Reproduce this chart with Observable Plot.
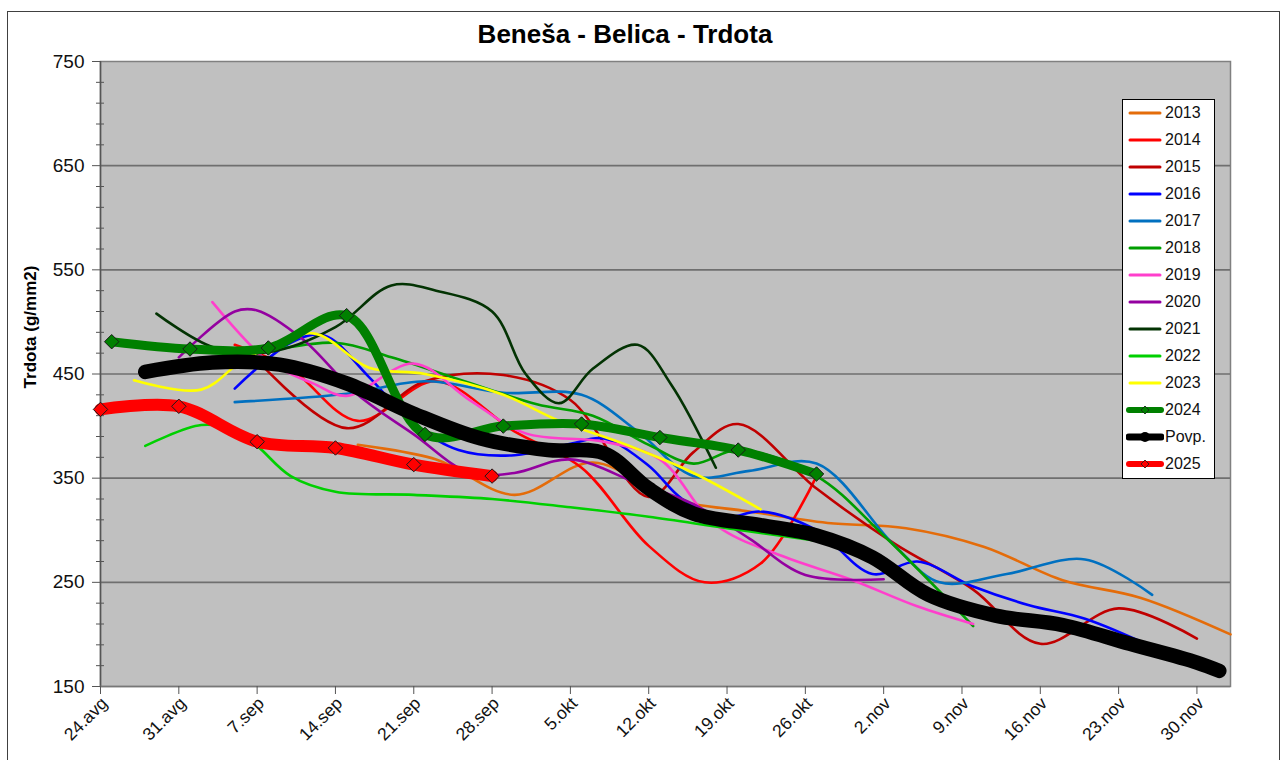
<!DOCTYPE html>
<html>
<head>
<meta charset="utf-8">
<script src="https://cdn.jsdelivr.net/npm/d3@7"></script>
<script src="https://cdn.jsdelivr.net/npm/@observablehq/plot@0.6"></script>
<style>
  body { margin: 0; background: #fff; font-family: "Liberation Sans", Arial, sans-serif; }
  #wrap { position: relative; width: 1284px; height: 760px; overflow: hidden; }
  #frame { position: absolute; left: 7px; top: 11px; width: 1271px; height: 800px; border: 1px solid #404040; pointer-events: none; }
  #title { position: absolute; left: 0; width: 1250px; top: 19px; text-align: center; font-weight: bold; font-size: 26px; color: #000; }
  #ylab { position: absolute; left: 31px; top: 327px; transform: translate(-50%, -50%) rotate(-90deg); font-weight: bold; font-size: 17px; white-space: nowrap; }
  #legend { position: absolute; left: 1122px; top: 99px; width: 91px; height: 378px; background: #fff; border: 1px solid #000; }
  .lrow { position: absolute; left: 3px; height: 20px; display: flex; align-items: center; font-size: 16px; color: #111; }
  .lrow svg { display: block; margin-right: 1px; }
</style>
</head>
<body>
<div id="wrap">
  <div id="chart"></div>
  <div id="title">Beneša - Belica - Trdota</div>
  <div id="ylab">Trdota (g/mm2)</div>
  <div id="legend"></div>
  <div id="frame"></div>
</div>
<script>
// ---- tick labels ----
const weekTicks = ["08-24","08-31","09-07","09-14","09-21","09-28","10-05","10-12","10-19","10-26","11-02","11-09","11-16","11-23","11-30"];
const weekLabels = ["24.avg","31.avg","7.sep","14.sep","21.sep","28.sep","5.okt","12.okt","19.okt","26.okt","2.nov","9.nov","16.nov","23.nov","30.nov"];
const yMajor = [150, 250, 350, 450, 550, 650, 750];
const yGrid = [250, 350, 450, 550, 650];
const yMinor = [170,190,210,230,270,290,310,330,370,390,410,430,470,490,510,530,570,590,610,630,670,690,710,730];

// ---- series (date, value) ----
const d2013 = ["09-16","09-23","09-30","10-07","10-14","10-21","10-28","11-04","11-11","11-18","11-25","12-03"];
const v2013 = [382, 368, 334, 365, 330, 318, 307, 302, 284, 252, 235, 200];

const d2014 = ["09-05","09-10","09-16","09-23","09-30","10-06","10-12","10-17","10-22","10-27"];
const v2014 = [478, 455, 405, 443, 395, 360, 285, 250, 268, 352];

const d2015 = ["09-06","09-15","09-22","09-29","10-05","10-12","10-16","10-20","10-27","11-03","11-10","11-16","11-23","11-30"];
const v2015 = [475, 398, 443, 449, 425, 332, 375, 402, 340, 287, 243, 191, 225, 196];

const d2016 = ["09-05","09-10","09-13","09-17","09-21","09-25","09-30","10-05","10-08","10-12","10-15","10-19","10-22","10-27","11-01","11-05","11-10","11-15","11-20","11-26"];
const v2016 = [436, 480, 487, 447, 402, 377, 372, 383, 388, 362, 330, 313, 318, 300, 258, 270, 246, 228, 215, 188];

const d2017 = ["09-05","09-15","09-22","09-29","10-06","10-11","10-16","10-21","10-27","11-03","11-07","11-13","11-20","11-26"];
const v2017 = [423, 431, 443, 432, 430, 395, 352, 357, 364, 285, 250, 258, 272, 238];

const d2018 = ["09-07","09-14","09-19","09-25","10-02","10-07","10-12","10-16","10-20","10-27","11-02","11-10"];
const v2018 = [470, 480, 466, 445, 421, 410, 382, 364, 377, 352, 295, 208];

const d2019 = ["09-03","09-08","09-12","09-15","09-21","09-26","10-01","10-08","10-13","10-18","10-24","10-30","11-05","11-10"];
const v2019 = [519, 462, 441, 429, 460, 425, 393, 385, 368, 305, 275, 253, 227, 210];

const d2020 = ["08-31","09-05","09-07","09-11","09-16","09-21","09-26","09-30","10-05","10-11","10-16","10-21","10-26","11-02"];
const v2020 = [466, 510, 511, 484, 430, 392, 355, 355, 368, 345, 325, 292, 257, 253];

const d2021 = ["08-29","09-03","09-08","09-14","09-19","09-23","09-28","10-01","10-04","10-07","10-11","10-14","10-18"];
const v2021 = [508, 476, 471, 495, 535, 530, 510, 450, 422, 455, 478, 440, 360];

const d2022 = ["08-28","09-02","09-05","09-07","09-10","09-14","09-21","09-28","10-05","10-12","10-19","10-27"];
const v2022 = [381, 401, 396, 381, 352, 337, 334, 330, 322, 313, 302, 290];

const d2023 = ["08-27","09-02","09-06","09-12","09-17","09-22","09-29","10-04","10-10","10-16","10-22"];
const v2023 = [444, 435, 465, 489, 456, 450, 430, 405, 382, 355, 320];

const d2024 = ["08-25","09-01","09-08","09-15","09-22","09-29","10-06","10-13","10-20","10-27"];
const v2024 = [481, 474, 475, 506, 392, 400, 402, 389, 377, 354];

const dPovp = ["08-28","09-03","09-09","09-15","09-21","09-27","10-03","10-08","10-12","10-16","10-22","10-27","11-01","11-06","11-12","11-18","11-24","11-30","12-02"];
const vPovp = [452, 461, 459, 441, 412, 388, 377, 374, 340, 316, 305, 295, 274, 238, 218, 209, 191, 173, 165];

const d2025 = ["08-24","08-31","09-07","09-14","09-21","09-28"];
const v2025 = [416, 419, 385, 379, 363, 352];

// ---- styles ----
const series = [
  {name: "2013", d: d2013, v: v2013, color: "#E46C0A", w: 2.6},
  {name: "2014", d: d2014, v: v2014, color: "#FF0000", w: 2.6},
  {name: "2015", d: d2015, v: v2015, color: "#C00000", w: 2.6},
  {name: "2016", d: d2016, v: v2016, color: "#0000FF", w: 2.6},
  {name: "2017", d: d2017, v: v2017, color: "#0070C0", w: 2.6},
  {name: "2018", d: d2018, v: v2018, color: "#009E00", w: 2.6},
  {name: "2019", d: d2019, v: v2019, color: "#FF3FCC", w: 2.6},
  {name: "2020", d: d2020, v: v2020, color: "#9400A0", w: 2.6},
  {name: "2021", d: d2021, v: v2021, color: "#033303", w: 2.6},
  {name: "2022", d: d2022, v: v2022, color: "#00D000", w: 2.6},
  {name: "2023", d: d2023, v: v2023, color: "#FFFF00", w: 2.6},
  {name: "2024", d: d2024, v: v2024, color: "#008000", w: 9, marker: "diamond"},
  {name: "Povp.", d: dPovp, v: vPovp, color: "#000000", w: 14.5, marker: "circle"},
  {name: "2025", d: d2025, v: v2025, color: "#FF0000", w: 12, marker: "diamond"}
];

const D = s => new Date(`2025-${s}T00:00:00Z`);
const rows = series.map(s => s.d.map((d, i) => ({name: s.name, date: D(d), value: s.v[i]})));
const x0 = D("08-24");

const marks = [
  Plot.frame({fill: "#C0C0C0", stroke: "#808080", strokeWidth: 1.5}),
  Plot.gridY(yGrid, {stroke: "#6f6f6f", strokeOpacity: 1, strokeWidth: 1.6}),
  Plot.ruleX([x0], {stroke: "#555", strokeWidth: 1.5}),
  Plot.ruleY([150], {stroke: "#777", strokeWidth: 1.5}),
  Plot.axisY(yMinor, {tickSize: 8, dx: 4, text: null, stroke: "#555", label: null}),
  Plot.axisY(yMajor, {tickSize: 8, text: null, stroke: "#555", label: null}),
  Plot.axisX(weekTicks.map(D), {tickSize: 8, text: null, stroke: "#555", label: null}),
  // tick labels drawn as text marks for explicit font sizes
  Plot.text(yMajor, {x: () => x0, y: d => d, text: d => String(d), textAnchor: "end", dx: -16, fontSize: 19, fill: "#111"}),
  Plot.text(weekTicks, {x: d => D(d), y: () => 150, text: (d, i) => weekLabels[i], rotate: -45, textAnchor: "end",
    dx: 4, dy: 14, fontSize: 17.5, fill: "#111"})
];
series.forEach((s, k) => {
  marks.push(Plot.line(rows[k], {x: "date", y: "value", stroke: s.color, strokeWidth: s.w, curve: "catmull-rom",
    strokeLinecap: "round", strokeLinejoin: "round"}));
  if (s.marker === "diamond") {
    marks.push(Plot.dot(rows[k], {x: "date", y: "value", symbol: "diamond2", r: 6.5, fill: s.color, stroke: "#1a1a1a", strokeWidth: 1}));
  }
});

const chart = Plot.plot({
  width: 1284, height: 760,
  marginLeft: 100, marginRight: 54, marginTop: 61, marginBottom: 74,
  style: {background: "transparent", fontFamily: "Liberation Sans, Arial, sans-serif"},
  x: {type: "utc", domain: [x0, D("12-03")], axis: null},
  y: {domain: [150, 750], axis: null},
  marks
});
document.getElementById("chart").appendChild(chart);

// ---- legend ----
const leg = document.getElementById("legend");
series.forEach((s, i) => {
  const row = document.createElement("div");
  row.className = "lrow";
  row.style.top = (3 + i * 27) + "px";
  const lw = s.w <= 3 ? 3 : (s.name === "Povp." ? 7 : 6);
  let mk = "";
  if (s.marker === "diamond") mk = `<path d="M19,3 L23,7 L19,11 L15,7 Z" fill="${s.color}" stroke="#1a1a1a" stroke-width="0.8"/>`;
  if (s.marker === "circle") mk = `<circle cx="19" cy="7" r="5" fill="#000"/>`;
  row.innerHTML = `<svg width="38" height="14"><line x1="${lw > 3 ? 3 : 4}" y1="7" x2="${lw > 3 ? 35 : 34}" y2="7" stroke="${s.color}" stroke-width="${lw}" stroke-linecap="round"/>${mk}</svg><span>${s.name}</span>`;
  leg.appendChild(row);
});
</script>
</body>
</html>
